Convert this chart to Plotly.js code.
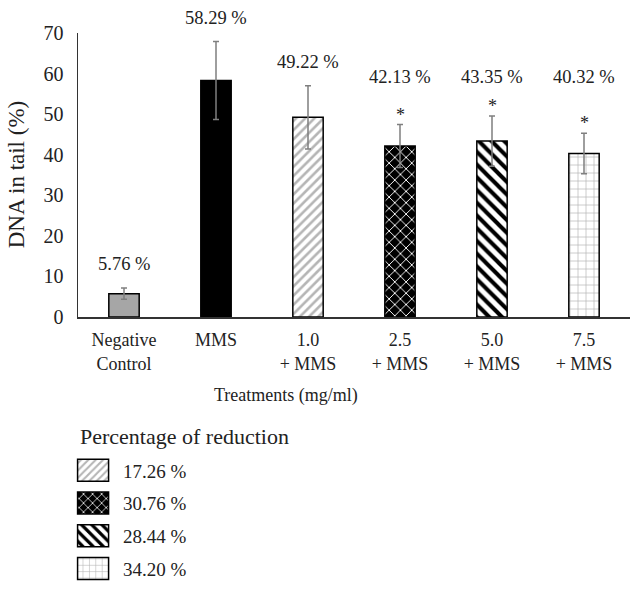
<!DOCTYPE html>
<html>
<head>
<meta charset="utf-8">
<script src="https://cdn.plot.ly/plotly-3.0.1.min.js"></script>
<style>
  body { margin: 0; background: #fff; }
  #plot { width: 644px; height: 597px; }
</style>
</head>
<body>
<div id="plot"></div>
<script>
// data
const categories = ["Negative<br>Control", "MMS", "1.0<br>+ MMS", "2.5<br>+ MMS", "5.0<br>+ MMS", "7.5<br>+ MMS"];
const dnaInTail = [5.76, 58.29, 49.22, 42.13, 43.35, 40.32];
const errors = [1.4, 9.6, 7.8, 5.3, 6.2, 5.0];
const significant = [false, false, false, true, true, true];
const reduction = [null, null, "17.26 %", "30.76 %", "28.44 %", "34.20 %"];
const yTicks = [0, 10, 20, 30, 40, 50, 60, 70];

const serif = "'Liberation Serif', 'DejaVu Serif', serif";
const ink = "#222";

// fill for each bar
const fills = [
  { color: "#a6a6a6" },
  { color: "#000000" },
  { color: "#ffffff", pattern: { shape: "/", fgcolor: "#b5b5b5", bgcolor: "#ffffff", size: 6.5, solidity: 0.4 } },
  { color: "#000000", pattern: { shape: "x", fgcolor: "#ffffff", bgcolor: "#000000", size: 8, solidity: 0.22 } },
  { color: "#ffffff", pattern: { shape: "\\", fgcolor: "#000000", bgcolor: "#ffffff", size: 9, solidity: 0.45 } },
  { color: "#ffffff", pattern: { shape: "+", fgcolor: "#b0b0b0", bgcolor: "#ffffff", size: 8, solidity: 0.16 } },
];

const traces = categories.map((cat, i) => ({
  type: "bar",
  x: [cat],
  y: [dnaInTail[i]],
  name: reduction[i] || cat,
  showlegend: reduction[i] !== null,
  legendgroup: "g" + i,
  marker: Object.assign({ line: { color: "#000", width: 1.5 } }, fills[i]),
  error_y: { type: "data", array: [errors[i]], visible: true, color: "#7f7f7f", thickness: 1.5, width: 3 },
  hoverinfo: "skip",
}));

// value labels + asterisks
const annotations = [];
const starTop = Math.max(...dnaInTail.map((v, i) => (significant[i] ? v + errors[i] : 0)));
dnaInTail.forEach((v, i) => {
  const top = v + errors[i];
  if (significant[i]) {
    annotations.push({ x: categories[i], y: top, text: "*", showarrow: false, yanchor: "bottom", yshift: -2, font: { family: serif, size: 18, color: ink } });
  }
  annotations.push({
    x: categories[i], y: significant[i] ? starTop : top,
    text: v.toFixed(2) + " %", showarrow: false, yanchor: "middle",
    yshift: significant[i] ? 39 : 24,
    font: { family: serif, size: 18.5, color: ink },
  });
});

// axis titles and legend heading
annotations.push({ xref: "paper", yref: "paper", x: 0.377, y: -0.278, xanchor: "center", yanchor: "middle", text: "Treatments (mg/ml)", showarrow: false, font: { family: serif, size: 18, color: ink } });
annotations.push({ xref: "paper", yref: "paper", x: -0.112, y: 0.503, xanchor: "center", yanchor: "middle", text: "DNA in tail (%)", textangle: -90, showarrow: false, font: { family: serif, size: 23, color: ink } });
annotations.push({ xref: "paper", yref: "paper", x: 0, y: -0.4225, xanchor: "left", yanchor: "middle", text: "Percentage of reduction", showarrow: false, font: { family: serif, size: 22, color: ink } });

const layout = {
  width: 644,
  height: 597,
  margin: { l: 78, r: 14, t: 33, b: 280, autoexpand: false },
  paper_bgcolor: "#fff",
  plot_bgcolor: "#fff",
  barmode: "overlay",
  bargap: 0.67,
  font: { family: serif, color: ink },
  xaxis: {
    type: "category",
    showline: true, linecolor: "#333", linewidth: 1.5,
    ticks: "", showgrid: false, zeroline: false,
    tickfont: { family: serif, size: 18, color: ink },
    ticklabelstandoff: 6,
  },
  yaxis: {
    range: [0, 70],
    tickvals: yTicks,
    showline: true, linecolor: "#333", linewidth: 1.5,
    ticks: "", showgrid: false, zeroline: false,
    tickfont: { family: serif, size: 20, color: ink },
    ticklabelstandoff: 9,
  },
  showlegend: true,
  legend: {
    xref: "container", yref: "container",
    x: 0.0964, xanchor: "left",
    y: 0.2437, yanchor: "top",
    font: { family: serif, size: 19, color: ink },
    tracegroupgap: 5,
    itemwidth: 51,
    bgcolor: "rgba(0,0,0,0)",
  },
  annotations: annotations,
};

Plotly.newPlot("plot", traces, layout, { displayModeBar: false, staticPlot: true }).then(() => {
  // bigger legend swatches, like the original
  document.querySelectorAll(".legend .legendpoints path").forEach((p) => {
    p.setAttribute("d", "M16,11H-15V-11H16Z");
  });
});
</script>
</body>
</html>
